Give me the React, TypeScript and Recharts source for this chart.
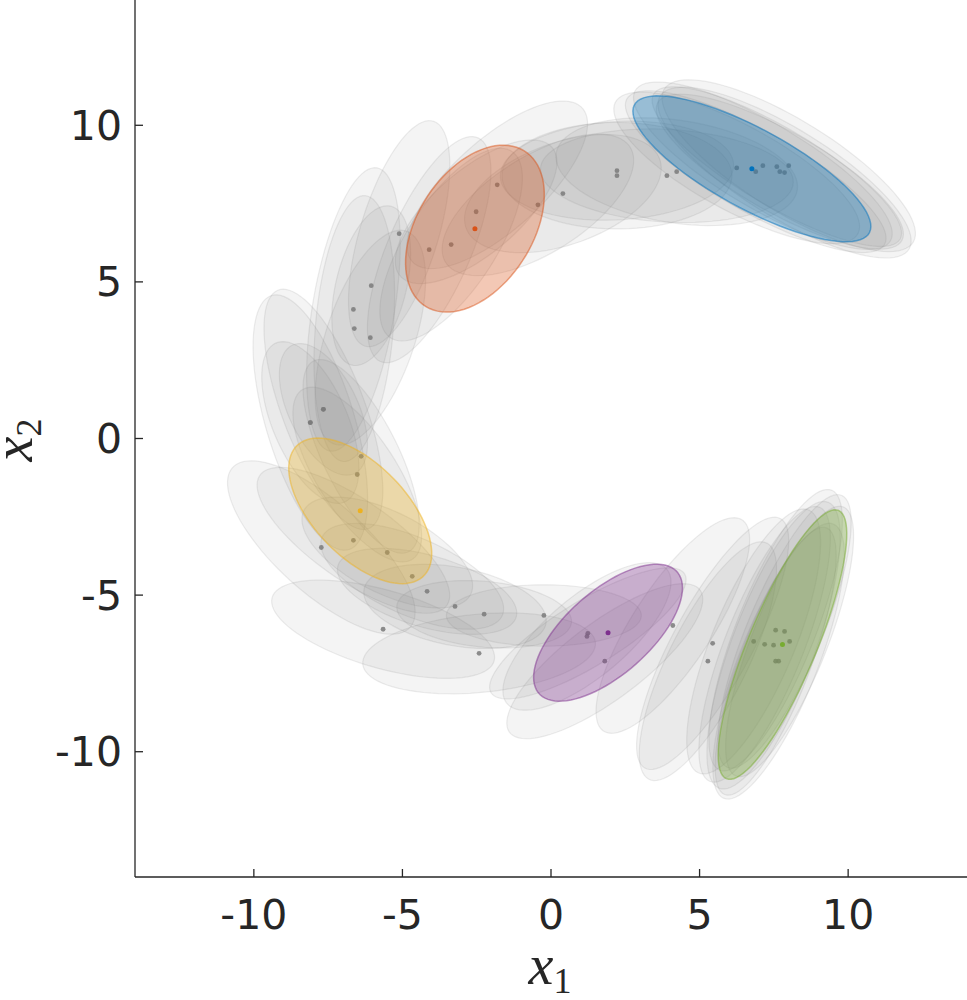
import React from 'react';
import { ScatterChart, Scatter, XAxis, YAxis } from 'recharts';

// ---------- layout constants ----------
const CHART_W = 967;
const CHART_H = 1000;
const Y_AXIS_W = 135;
const X_AXIS_H = 123;
const X_DOMAIN: [number, number] = [-14, 14];
const Y_DOMAIN: [number, number] = [-14, 14];

// ---------- data ----------
const xTicks = [-10, -5, 0, 5, 10];
const yTicks = [-10, -5, 0, 5, 10];

type Ell = { x: number; y: number; a: number; b: number; angle: number };

// gray ellipses (centre x, centre y, semi-axes a, b, angle in degrees)
const grayBlueCluster: Ell[] = [
  { x: 6.25, y: 8.64, a: 4.59, b: 1.38, angle: -27 },
  { x: 6.89, y: 8.52, a: 4.92, b: 1.31, angle: -28 },
  { x: 7.13, y: 8.71, a: 4.92, b: 1.38, angle: -29 },
  { x: 7.6, y: 8.68, a: 4.75, b: 1.25, angle: -29 },
  { x: 7.7, y: 8.52, a: 4.66, b: 1.31, angle: -28 },
  { x: 7.86, y: 8.49, a: 4.85, b: 1.44, angle: -30 },
  { x: 8.0, y: 8.71, a: 4.85, b: 1.48, angle: -30 },
];

const grayTopArc: Ell[] = [
  { x: -1.81, y: 8.1, a: 3.77, b: 1.48, angle: 40 },
  { x: -0.44, y: 7.46, a: 3.61, b: 1.57, angle: 30 },
  { x: 0.4, y: 7.82, a: 3.44, b: 1.64, angle: 18 },
  { x: 2.22, y: 8.55, a: 3.93, b: 1.57, angle: 3 },
  { x: 2.22, y: 8.39, a: 3.87, b: 1.7, angle: 0 },
  { x: 3.9, y: 8.39, a: 4.26, b: 1.48, angle: -3 },
  { x: 4.23, y: 8.52, a: 4.1, b: 1.64, angle: -8 },
  { x: -2.52, y: 7.24, a: 3.28, b: 1.38, angle: 38 },
  { x: -3.36, y: 6.19, a: 3.61, b: 1.48, angle: 55 },
  { x: -4.1, y: 6.03, a: 3.93, b: 1.38, angle: 65 },
  { x: -5.11, y: 6.54, a: 3.77, b: 1.31, angle: 72 },
];

const grayLeftArc: Ell[] = [
  { x: -6.05, y: 4.88, a: 2.62, b: 1.18, angle: 75 },
  { x: -6.65, y: 4.12, a: 4.59, b: 1.38, angle: 80 },
  { x: -6.62, y: 3.51, a: 4.26, b: 1.31, angle: 85 },
  { x: -6.08, y: 3.22, a: 3.61, b: 1.48, angle: 70 },
  { x: -7.66, y: 0.93, a: 2.3, b: 1.15, angle: -62 },
  { x: -8.1, y: 0.51, a: 2.79, b: 1.25, angle: -65 },
  { x: -8.1, y: 0.51, a: 4.26, b: 1.48, angle: -72 },
  { x: -7.66, y: 0.93, a: 4.1, b: 1.38, angle: -68 },
  { x: -6.39, y: -0.57, a: 3.44, b: 1.25, angle: -62 },
  { x: -6.52, y: -1.15, a: 3.28, b: 1.31, angle: -55 },
  { x: -6.65, y: -3.25, a: 3.77, b: 1.31, angle: -33 },
  { x: -7.73, y: -3.48, a: 3.93, b: 1.48, angle: -40 },
  { x: -5.51, y: -3.64, a: 3.11, b: 1.31, angle: -25 },
];

const grayBottomArc: Ell[] = [
  { x: -4.67, y: -4.4, a: 3.28, b: 1.25, angle: -22 },
  { x: -4.17, y: -4.88, a: 3.11, b: 1.15, angle: -15 },
  { x: -3.23, y: -5.36, a: 3.11, b: 1.25, angle: -10 },
  { x: -2.25, y: -5.61, a: 2.95, b: 1.05, angle: -5 },
  { x: -5.65, y: -6.09, a: 3.87, b: 1.25, angle: -15 },
  { x: -2.42, y: -6.86, a: 3.93, b: 1.25, angle: 5 },
  { x: -0.24, y: -5.65, a: 3.28, b: 0.98, angle: 0 },
  { x: 1.24, y: -6.22, a: 3.77, b: 1.05, angle: 30 },
  { x: 1.21, y: -6.32, a: 3.44, b: 1.31, angle: 38 },
  { x: 1.81, y: -7.11, a: 3.93, b: 1.25, angle: 35 },
  { x: 4.1, y: -5.97, a: 4.1, b: 1.31, angle: 55 },
];

const grayGreenCluster: Ell[] = [
  { x: 5.44, y: -6.54, a: 4.59, b: 1.31, angle: 60 },
  { x: 5.28, y: -7.11, a: 4.26, b: 1.31, angle: 62 },
  { x: 7.56, y: -6.12, a: 4.85, b: 1.31, angle: 67 },
  { x: 7.86, y: -6.16, a: 4.75, b: 1.25, angle: 66 },
  { x: 6.82, y: -6.48, a: 4.59, b: 1.38, angle: 66 },
  { x: 7.19, y: -6.57, a: 4.75, b: 1.31, angle: 67 },
  { x: 7.49, y: -6.6, a: 4.92, b: 1.38, angle: 68 },
  { x: 8.03, y: -6.48, a: 4.66, b: 1.25, angle: 67 },
  { x: 7.56, y: -7.11, a: 4.59, b: 1.18, angle: 68 },
  { x: 7.66, y: -7.11, a: 4.75, b: 1.31, angle: 67 },
];

// coloured (mean) components
const blueComponent: Ell[] = [{ x: 6.76, y: 8.61, a: 4.45, b: 1.29, angle: -27.1 }];
const orangeComponent: Ell[] = [{ x: -2.56, y: 6.7, a: 2.99, b: 1.9, angle: 54 }];
const yellowComponent: Ell[] = [{ x: -6.42, y: -2.31, a: 2.98, b: 1.52, angle: -43.3 }];
const purpleComponent: Ell[] = [{ x: 1.92, y: -6.2, a: 3.03, b: 1.37, angle: 39.1 }];
const greenComponent: Ell[] = [{ x: 7.79, y: -6.58, a: 4.68, b: 1.14, angle: 66.1 }];

// ---------- styles ----------
const COLORS = {
  blue: '#0072BD',
  orange: '#D95319',
  yellow: '#EDB120',
  purple: '#7E2F8E',
  green: '#77AC30',
};
const AXIS_COLOR = '#262626';
const TICK_FONT = 'DejaVu Sans, Noto Sans, sans-serif';
const TITLE_FONT = 'Liberation Serif, DejaVu Serif, serif';

const grayEllipses: Ell[] = [
  ...grayTopArc,
  ...grayLeftArc,
  ...grayBottomArc,
  ...grayBlueCluster,
  ...grayGreenCluster,
];

const components = [
  { key: 'blue', data: blueComponent },
  { key: 'orange', data: orangeComponent },
  { key: 'yellow', data: yellowComponent },
  { key: 'purple', data: purpleComponent },
  { key: 'green', data: greenComponent },
] as const;

// pixels per data unit (plot area spans the whole domain)
const KX = (CHART_W - Y_AXIS_W) / (X_DOMAIN[1] - X_DOMAIN[0]);
const KY = (CHART_H - X_AXIS_H) / (Y_DOMAIN[1] - Y_DOMAIN[0]);

function ellipsePath(cx: number, cy: number, e: Ell): string {
  const th = (e.angle * Math.PI) / 180;
  const c = Math.cos(th);
  const s = Math.sin(th);
  const N = 90;
  let d = '';
  for (let i = 0; i <= N; i++) {
    const t = (2 * Math.PI * i) / N;
    const ux = e.a * Math.cos(t);
    const uy = e.b * Math.sin(t);
    const dx = ux * c - uy * s;
    const dy = ux * s + uy * c;
    const px = cx + dx * KX;
    const py = cy - dy * KY;
    d += (i === 0 ? 'M' : 'L') + px.toFixed(2) + ' ' + py.toFixed(2);
  }
  return d + 'Z';
}

const makeEllipseShape =
  (fill: string, fillOpacity: number, stroke: string, strokeOpacity: number, strokeWidth: number) =>
  (props: any) => {
    if (props == null || props.cx == null || props.cy == null) return <g />;
    return (
      <path
        d={ellipsePath(props.cx, props.cy, props.payload)}
        fill={fill}
        fillOpacity={fillOpacity}
        stroke={stroke}
        strokeOpacity={strokeOpacity}
        strokeWidth={strokeWidth}
      />
    );
  };

const makeDotShape = (fill: string, r: number, opacity: number) => (props: any) => {
  if (props == null || props.cx == null || props.cy == null) return <g />;
  return <circle cx={props.cx} cy={props.cy} r={r} fill={fill} fillOpacity={opacity} />;
};

const XTick = (props: any) => {
  const { x, y, payload } = props;
  return (
    <g>
      <line x1={x} y1={y} x2={x} y2={y - 8} stroke={AXIS_COLOR} strokeWidth={1.3} />
      <text x={x} y={y + 52} textAnchor="middle" fontSize={41} fontFamily={TICK_FONT} fill={AXIS_COLOR}>
        {String(payload.value)}
      </text>
    </g>
  );
};

const YTick = (props: any) => {
  const { x, y, payload } = props;
  return (
    <g>
      <line x1={x} y1={y} x2={x + 8} y2={y} stroke={AXIS_COLOR} strokeWidth={1.3} />
      <text x={x - 13} y={y + 14.5} textAnchor="end" fontSize={41} fontFamily={TICK_FONT} fill={AXIS_COLOR}>
        {String(payload.value)}
      </text>
    </g>
  );
};

const XTitle = (props: any) => {
  const vb = props.viewBox || { x: Y_AXIS_W, width: CHART_W - Y_AXIS_W };
  const cx = vb.x + vb.width / 2 - 1;
  return (
    <text x={cx} y={984} textAnchor="middle" fill={AXIS_COLOR} fontFamily={TITLE_FONT}>
      <tspan fontStyle="italic" fontSize={56}>x</tspan>
      <tspan fontSize={36} dy={9}>1</tspan>
    </text>
  );
};

const YTitle = () => {
  const bx = 32;
  const by = 440;
  return (
    <text
      x={bx}
      y={by}
      transform={`rotate(-90, ${bx}, ${by})`}
      textAnchor="middle"
      fill={AXIS_COLOR}
      fontFamily={TITLE_FONT}
    >
      <tspan fontStyle="italic" fontSize={56}>x</tspan>
      <tspan fontSize={36} dy={9}>2</tspan>
    </text>
  );
};

export default function App() {
  return (
    <div style={{ position: 'absolute', left: 0, top: 0, width: CHART_W, height: CHART_H, background: '#ffffff' }}>
      <ScatterChart width={CHART_W} height={CHART_H} margin={{ top: 0, right: 0, bottom: 0, left: 0 }}>
        <XAxis
          type="number"
          dataKey="x"
          domain={X_DOMAIN}
          ticks={xTicks}
          allowDataOverflow
          height={X_AXIS_H}
          axisLine={{ stroke: AXIS_COLOR, strokeWidth: 1.3 }}
          tickLine={false}
          tickSize={0}
          tickMargin={0}
          tick={<XTick />}
          interval={0}
          label={<XTitle />}
        />
        <YAxis
          type="number"
          dataKey="y"
          domain={Y_DOMAIN}
          ticks={yTicks}
          allowDataOverflow
          width={Y_AXIS_W}
          axisLine={{ stroke: AXIS_COLOR, strokeWidth: 1.3 }}
          tickLine={false}
          tickSize={0}
          tickMargin={0}
          tick={<YTick />}
          interval={0}
          label={<YTitle />}
        />
        <Scatter
          data={grayEllipses}
          isAnimationActive={false}
          shape={makeEllipseShape('#808080', 0.085, '#808080', 0.14, 1.2)}
        />
        <Scatter data={grayEllipses} isAnimationActive={false} shape={makeDotShape('#7a7a7a', 2.4, 0.85)} />
        {components.map((c) => (
          <Scatter
            key={c.key + '-ell'}
            data={c.data as Ell[]}
            isAnimationActive={false}
            shape={makeEllipseShape(COLORS[c.key], 0.32, COLORS[c.key], 0.5, 1.5)}
          />
        ))}
        {components.map((c) => (
          <Scatter
            key={c.key + '-dot'}
            data={c.data as Ell[]}
            isAnimationActive={false}
            shape={makeDotShape(COLORS[c.key], 2.5, 1)}
          />
        ))}
      </ScatterChart>
    </div>
  );
}
